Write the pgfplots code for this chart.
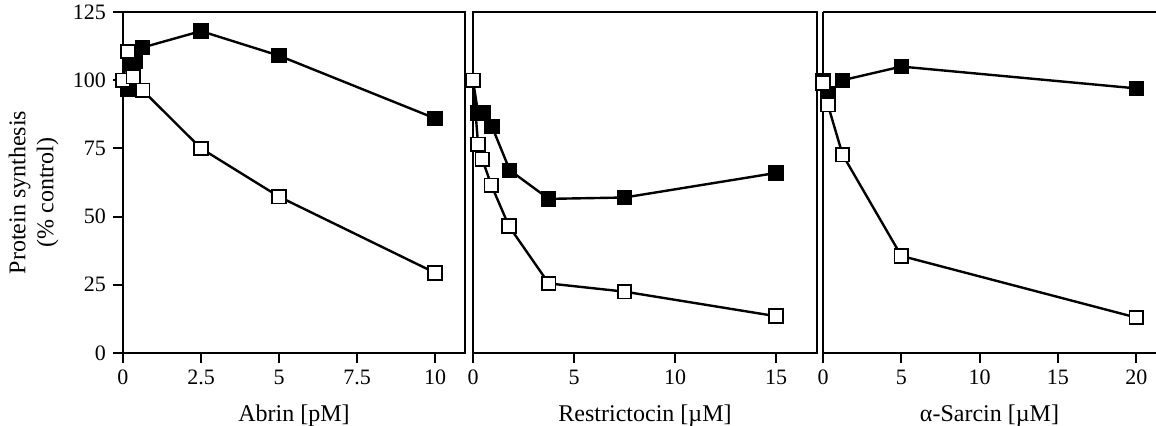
\documentclass[border=0pt]{standalone}
\usepackage{fontspec}
\setmainfont{Liberation Serif}
\usepackage{pgfplots}
\pgfplotsset{compat=1.18}

\pgfplotsset{
  panel/.style={
    scale only axis,
    height=170.5pt,
    xmin=0, ymin=0, ymax=125,
    axis line style={-, line width=1pt},
    tick style={line width=1pt, black},
    tick align=outside,
    major tick length=5pt,
    xtick pos=bottom, ytick pos=left,
    tick label style={font=\fontsize{11}{13}\selectfont},
    label style={font=\fontsize{12}{14}\selectfont},
    /pgf/number format/assume math mode=true,
    clip=false,
    xlabel style={at={(axis description cs:0.5,0)}, anchor=center, yshift=-31.5pt},
  },
  filled/.style={black, line width=1.2pt, mark=square*, mark size=3.4pt,
    mark options={solid, fill=black, line width=0.9pt}},
  open/.style={black, line width=1.2pt, mark=square*, mark size=3.4pt,
    mark options={solid, fill=white, line width=0.9pt}},
}

\begin{document}
\begin{tikzpicture}
\useasboundingbox (0,0) rectangle (578pt,212.5pt);

% Abrin
\begin{axis}[panel, at={(61.5pt,36pt)}, anchor=south west,
  width=171pt, xmax=10.96,
  xtick={0,2.5,5,7.5,10},
  ytick={0,25,50,75,100,125},
  xlabel={Abrin [pM]},
  ylabel={Protein synthesis\\(\% control)},
  % label is rotated: yshift moves it left, xshift moves it down
  ylabel style={align=center, at={(axis description cs:0,0.5)}, anchor=center, yshift=44.75pt, xshift=-5pt},
]
\addplot[filled] coordinates {
  (0,100) (0.16,96.5) (0.2,107) (0.38,107) (0.63,112) (2.5,118) (5,109) (10,86)
};
\addplot[open] coordinates {
  (0,100) (0.16,110.5) (0.33,101.3) (0.63,96.3) (2.5,75) (5,57.3) (10,29.4)
};
\end{axis}

% Restrictocin
\begin{axis}[panel, at={(236.5pt,36pt)}, anchor=south west,
  width=172pt, xmax=17.03,
  xtick={0,5,10,15},
  ytick=\empty,
  xlabel={Restrictocin [µM]},
]
\addplot[filled] coordinates {
  (0,100) (0.25,88) (0.5,88) (0.94,83) (1.82,67) (3.75,56.5) (7.5,57) (15,66)
};
\addplot[open] coordinates {
  (0,100) (0.25,76.5) (0.46,71) (0.91,61.5) (1.78,46.5) (3.75,25.5) (7.5,22.5) (15,13.5)
};
\end{axis}

% alpha-Sarcin
\begin{axis}[panel, at={(411.5pt,36pt)}, anchor=south west,
  width=166.5pt, xmax=21.26,
  axis x line*=box, axis y line*=left,
  xtick={0,5,10,15,20},
  ytick=\empty,
  xlabel={α-Sarcin [µM]},
]
\addplot[filled] coordinates {
  (0,100) (0.31,95) (1.25,100) (5,105) (20,97)
};
\addplot[open] coordinates {
  (0,99) (0.31,91) (1.25,72.7) (5,35.6) (20,13)
};
\end{axis}
\end{tikzpicture}
\end{document}
